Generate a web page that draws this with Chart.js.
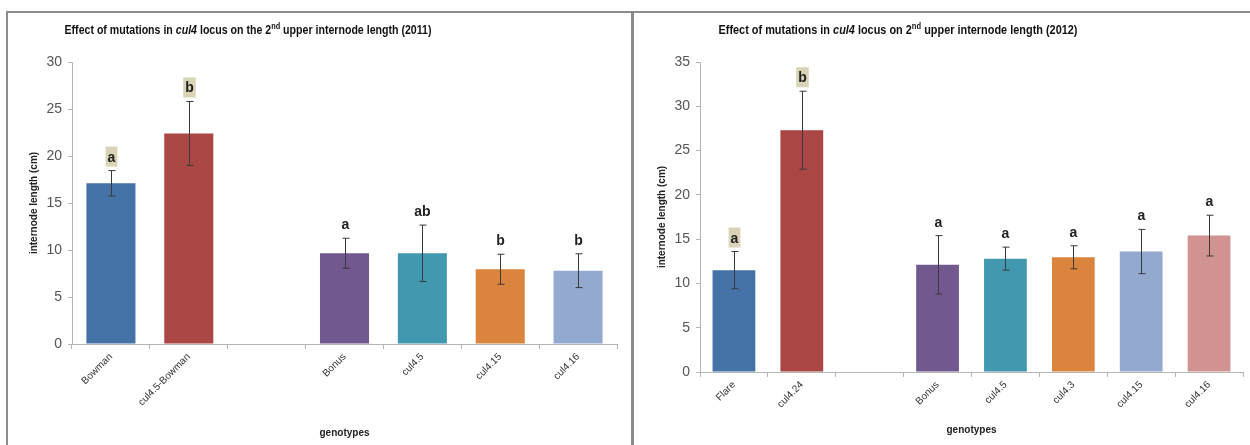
<!DOCTYPE html>
<html>
<head>
<meta charset="utf-8">
<script src="https://cdn.jsdelivr.net/npm/chart.js@4.4.1/dist/chart.umd.min.js"></script>
<style>
  body { margin: 0; background: #fff; }
  #frame { position: relative; width: 1250px; height: 445px; overflow: hidden; }
  .hline { position: absolute; left: 6px; top: 11px; width: 1244px; height: 2px; background: #8c8c8c; }
  .vline { position: absolute; left: 6px; top: 11px; width: 2px; height: 434px; background: #8c8c8c; }
  .divider { position: absolute; left: 631px; top: 11px; width: 3px; height: 434px; background: #8a8a8a; }
  .box { position: absolute; top: 13px; height: 432px; }
</style>
</head>
<body>
<div id="frame">
  <div class="hline"></div>
  <div class="vline"></div>
  <div class="divider"></div>
  <div class="box" style="left:8px;width:623px"><canvas id="c2011" width="623" height="432"></canvas></div>
  <div class="box" style="left:636px;width:614px"><canvas id="c2012" width="614" height="432"></canvas></div>
</div>
<script>
// 2011 data
var labels2011 = ["Bowman", "cul4.5-Bowman", "", "Bonus", "cul4.5", "cul4.15", "cul4.16"];
var means2011 = [17.1, 22.4, null, 9.65, 9.65, 7.95, 7.8];
var errors2011 = [1.35, 3.4, null, 1.6, 3.0, 1.6, 1.8];
var letters2011 = ["a", "b", "", "a", "ab", "b", "b"];
var boxed2011 = [true, true, false, false, false, false, false];
var title2011 = [["Effect of mutations in ", ""], ["cul4", "i"], [" locus on the 2", ""], ["nd", "sup"], [" upper internode length (2011)", ""]];

// 2012 data
var labels2012 = ["Flare", "cul4.24", "", "Bonus", "cul4.5", "cul4.3", "cul4.15", "cul4.16"];
var means2012 = [11.5, 27.3, null, 12.1, 12.8, 12.95, 13.6, 15.4];
var errors2012 = [2.1, 4.4, null, 3.3, 1.3, 1.3, 2.5, 2.3];
var letters2012 = ["a", "b", "", "a", "a", "a", "a", "a"];
var boxed2012 = [true, true, false, false, false, false, false, false];
var title2012 = [["Effect of mutations in ", ""], ["cul4", "i"], [" locus on 2", ""], ["nd", "sup"], [" upper internode length (2012)", ""]];

var colors2011 = ["#4572A7", "#AA4643", "#ffffff", "#71588F", "#4198AF", "#DB843D", "#93A9CF"];
var colors2012 = ["#4572A7", "#AA4643", "#ffffff", "#71588F", "#4198AF", "#DB843D", "#93A9CF", "#D19392"];

var FONT = "'Liberation Sans', sans-serif";

function partFont(p) {
  return (p[1] === "i" ? "italic bold " : "bold ") + (p[1] === "sup" ? "9px " : "13px ") + FONT;
}

var extras = {
  id: "extras",
  afterDatasetsDraw: function (chart, args, opts) {
    var ctx = chart.ctx;
    var meta = chart.getDatasetMeta(0);
    var y = chart.scales.y;
    ctx.save();
    // error bars
    ctx.strokeStyle = "#3a3a3a";
    ctx.lineWidth = 1;
    opts.errors.forEach(function (e, i) {
      var m = opts.means[i];
      if (m == null) return;
      var x = Math.round(meta.data[i].x) + 0.5;
      var top = y.getPixelForValue(m + e);
      var bot = y.getPixelForValue(m - e);
      ctx.beginPath();
      ctx.moveTo(x, top); ctx.lineTo(x, bot);
      ctx.moveTo(x - 3, top); ctx.lineTo(x + 4, top);
      ctx.moveTo(x - 3, bot); ctx.lineTo(x + 4, bot);
      ctx.stroke();
      // significance letter
      var txt = opts.letters[i];
      ctx.font = "bold 14px " + FONT;
      ctx.textAlign = "center";
      ctx.textBaseline = "alphabetic";
      var base = top - 9;
      if (opts.boxed[i]) {
        var w = ctx.measureText(txt).width + 4;
        ctx.fillStyle = "#d9d4b6";
        ctx.fillRect(x - w / 2, base - 15, w, 20);
      }
      ctx.fillStyle = "#222";
      ctx.fillText(txt, x, base);
    });
    // title with italic and superscript parts, condensed horizontally
    var parts = opts.title;
    var widths = parts.map(function (p) {
      ctx.font = partFont(p);
      return ctx.measureText(p[0]).width;
    });
    var total = widths.reduce(function (a, b) { return a + b; }, 0);
    var sx = opts.titleWidth / total;
    ctx.translate(opts.titleX - opts.titleWidth / 2, 0);
    ctx.scale(sx, 1);
    var tx = 0;
    ctx.textAlign = "left";
    ctx.fillStyle = "#111";
    parts.forEach(function (p, k) {
      ctx.font = partFont(p);
      ctx.fillText(p[0], tx, p[1] === "sup" ? 16 : 21);
      tx += widths[k];
    });
    ctx.restore();
  }
};

function makeChart(id, labels, means, errors, letters, boxed, colors, title, opt) {
  return new Chart(document.getElementById(id), {
    type: "bar",
    data: {
      labels: labels,
      datasets: [{
        data: means,
        backgroundColor: colors,
        borderColor: colors,
        borderWidth: 0,
        categoryPercentage: 1,
        barPercentage: 0.63
      }]
    },
    options: {
      responsive: false,
      animation: false,
      events: [],
      layout: { padding: { top: 49, right: opt.right, left: 0, bottom: 0 } },
      plugins: {
        legend: { display: false },
        tooltip: { enabled: false },
        extras: { means: means, errors: errors, letters: letters, boxed: boxed, title: title, titleX: opt.titleX, titleWidth: opt.titleWidth }
      },
      scales: {
        x: {
          grid: { drawOnChartArea: false, color: "#b5b5b5", tickLength: 5, offset: true },
          border: { color: "#b5b5b5" },
          ticks: { minRotation: 45, maxRotation: 45, color: "#333", font: { family: FONT, size: 10 }, padding: 2 },
          title: { display: true, text: "genotypes", color: "#222", font: { family: FONT, size: 10, weight: "bold" }, padding: { top: 0, bottom: opt.xTitleBottom } },
          afterFit: function (s) { s.height = opt.xHeight; }
        },
        y: {
          min: 0, max: opt.max,
          grid: { drawOnChartArea: false, color: "#b5b5b5", tickLength: 4 },
          border: { color: "#b5b5b5" },
          ticks: { stepSize: 5, color: "#555", font: { family: FONT, size: 14 }, padding: 6 },
          title: { display: true, text: "internode length (cm)", color: "#222", font: { family: FONT, size: 10, weight: "bold" }, padding: { top: 20, bottom: 0 } },
          afterFit: function (s) { s.width = 64; }
        }
      }
    },
    plugins: [extras]
  });
}

makeChart("c2011", labels2011, means2011, errors2011, letters2011, boxed2011, colors2011, title2011,
  { right: 14, max: 30, xHeight: 101, titleX: 240, titleWidth: 367, xTitleBottom: 6 });
makeChart("c2012", labels2012, means2012, errors2012, letters2012, boxed2012, colors2012, title2012,
  { right: 7, max: 35, xHeight: 73, titleX: 262, titleWidth: 359, xTitleBottom: 9 });
</script>
</body>
</html>
